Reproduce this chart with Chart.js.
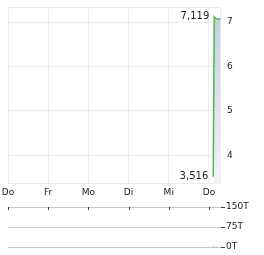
<!DOCTYPE html>
<html>
<head>
<meta charset="utf-8">
<script src="https://cdn.jsdelivr.net/npm/chart.js@4/dist/chart.umd.min.js"></script>
<style>
  html, body { margin: 0; padding: 0; background: #fff; }
  #wrap { position: relative; width: 264px; height: 255px; }
  #priceBox { position: absolute; left: 0; top: 0; width: 264px; height: 200px; }
  #volBox { position: absolute; left: 0; top: 198px; width: 264px; height: 57px; }
</style>
</head>
<body>
<div id="wrap">
  <div id="priceBox"><canvas id="priceChart"></canvas></div>
  <div id="volBox"><canvas id="volChart"></canvas></div>
</div>
<script>
// day labels along the x axis (one tick per trading day)
const dayLabels = ["Do", "Fr", "Mo", "Di", "Mi", "Do"];
const dayTicks = [0, 1, 2, 3, 4, 5];

// intraday price points on the last day (x in days)
const priceX = [5.107, 5.132, 5.187, 5.287];
const prices = [3.516, 7.119, 7.07, 7.07];

const priceTicks = [4, 5, 6, 7];
const volTicks = [0, 75, 150];
const volLabels = ["0T", "75T", "150T"];
const volumes = [0, 0, 0, 0];

const FONT = { family: "'DejaVu Sans', Verdana, sans-serif", size: 9 };
const TEXT = "#222";
const GRID = "#ececec";

const frame = {
  id: "frame",
  beforeDatasetsDraw(chart) {
    const { ctx, chartArea: a } = chart;
    ctx.save();
    ctx.strokeStyle = GRID;
    ctx.lineWidth = 1;
    ctx.strokeRect(Math.round(a.left) + 0.5, Math.round(a.top) + 0.5,
      Math.round(a.right - a.left) - 1, Math.round(a.bottom - a.top) - 1);
    ctx.restore();
  }
};

// labels for the high / low of the series
const extremes = {
  id: "extremes",
  afterDatasetsDraw(chart) {
    const { ctx, scales } = chart;
    const hi = prices.indexOf(Math.max(...prices));
    const lo = prices.indexOf(Math.min(...prices));
    ctx.save();
    ctx.font = "10px 'DejaVu Sans', Verdana, sans-serif";
    ctx.fillStyle = TEXT;
    ctx.textAlign = "right";
    ctx.textBaseline = "middle";
    [hi, lo].forEach(i => {
      const x = scales.x.getPixelForValue(priceX[i]);
      const y = scales.y.getPixelForValue(prices[i]);
      ctx.fillText(prices[i].toFixed(3).replace(".", ","), x - 5, y);
    });
    ctx.restore();
  }
};

const priceCanvas = document.getElementById("priceChart");
new Chart(priceCanvas, {
  type: "line",
  data: {
    datasets: [{
      data: priceX.map((x, i) => ({ x, y: prices[i] })),
      borderColor: "#53b453",
      borderWidth: 1.5,
      pointRadius: 0,
      tension: 0,
      fill: "start",
      backgroundColor: (c) => {
        const a = c.chart.chartArea;
        if (!a) return "#d5dde4";
        const g = c.chart.ctx.createLinearGradient(0, a.top, 0, a.bottom);
        g.addColorStop(0, "#c3ced8");
        g.addColorStop(1, "#f1f4f6");
        return g;
      },
    }],
  },
  options: {
    responsive: true,
    maintainAspectRatio: false,
    animation: false,
    layout: { padding: { left: 8, top: 7, right: 0, bottom: 0 } },
    plugins: { legend: { display: false }, tooltip: { enabled: false } },
    scales: {
      x: {
        type: "linear",
        min: 0,
        max: 5.3,
        afterBuildTicks: s => { s.ticks = dayTicks.map(v => ({ value: v })); },
        afterFit: s => { s.height = 16; s.paddingLeft = 0; s.paddingRight = 0; },
        ticks: {
          font: FONT, color: TEXT, padding: 3, maxRotation: 0, autoSkip: false,
          callback: v => dayLabels[dayTicks.indexOf(v)],
        },
        grid: { color: GRID, drawTicks: false },
        border: { display: false },
      },
      y: {
        position: "right",
        min: 3.35,
        max: 7.34,
        afterBuildTicks: s => { s.ticks = priceTicks.map(v => ({ value: v })); },
        afterFit: s => { s.width = 43; s.paddingTop = 0; s.paddingBottom = 0; },
        ticks: { font: FONT, color: TEXT, padding: 6 },
        grid: { color: GRID, drawTicks: false },
        border: { display: false },
      },
    },
  },
  plugins: [frame, extremes],
});

// small tick marks under the top line of the volume panel
const volTickMarks = {
  id: "volTickMarks",
  afterDatasetsDraw(chart) {
    const { ctx, chartArea: a, scales } = chart;
    ctx.save();
    ctx.strokeStyle = "#444";
    ctx.lineWidth = 1;
    dayTicks.forEach(v => {
      const x = Math.round(scales.x.getPixelForValue(v)) + 0.5;
      ctx.beginPath();
      ctx.moveTo(x, Math.round(a.top));
      ctx.lineTo(x, Math.round(a.top) + 3);
      ctx.stroke();
    });
    ctx.restore();
  }
};

const volCanvas = document.getElementById("volChart");
new Chart(volCanvas, {
  type: "bar",
  data: {
    datasets: [{
      data: priceX.map((x, i) => ({ x, y: volumes[i] })),
      backgroundColor: "#9aa7b3",
      barThickness: 1,
    }],
  },
  options: {
    responsive: true,
    maintainAspectRatio: false,
    animation: false,
    layout: { padding: { left: 8, top: 9, right: 0, bottom: 8 } },
    plugins: { legend: { display: false }, tooltip: { enabled: false } },
    scales: {
      x: { type: "linear", min: 0, max: 5.3, offset: false, display: false },
      y: {
        position: "right",
        min: 0,
        max: 150,
        afterBuildTicks: s => { s.ticks = volTicks.map(v => ({ value: v })); },
        afterFit: s => { s.width = 43; s.paddingTop = 0; s.paddingBottom = 0; },
        ticks: {
          font: FONT, color: TEXT, padding: 1,
          callback: v => volLabels[volTicks.indexOf(v)],
        },
        grid: { color: "#c8c8c8", tickColor: "#444", tickLength: 4 },
        border: { display: false },
      },
    },
  },
  plugins: [volTickMarks],
});
</script>
</body>
</html>
